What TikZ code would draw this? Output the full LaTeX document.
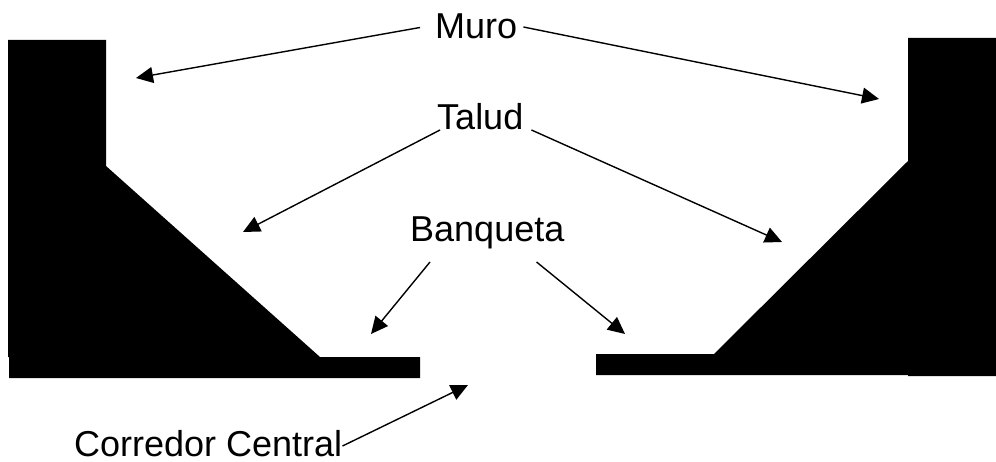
\documentclass[tikz,border=0pt]{standalone}
\usepackage{fontspec}
\setmainfont{Liberation Sans}
\usetikzlibrary{arrows.meta}
\tikzstyle{every node}=[font=\fontsize{36}{40}\selectfont,inner sep=0pt,anchor=base west]
\tikzset{callout/.style={draw,line width=1.4pt,-{Triangle[length=17pt,width=16pt]}}}
\begin{document}
\begin{tikzpicture}[x=1pt,y=-1pt]
	\useasboundingbox (0,0) rectangle (996,462);
	\fill (8,40) -- (106,40) -- (106,166) -- (320,357) -- (420,357) -- (420,378) -- (9,378) -- (9,357) -- (8,357) -- cycle; % left bank
	\fill (908,38) -- (996,38) -- (996,376) -- (908,376) -- (908,375) -- (596,375) -- (596,354) -- (714,354) -- (908,161) -- cycle; % right bank
	\node (muro) at (435,39) {Muro};
	\node (talud) at (437,130) {Talud};
	\node (banqueta) at (410,242) {Banqueta};
	\node (corredor) at (74,456) {Corredor Central};
	\coordinate (muroL) at (136,78); \coordinate (muroR) at (879,99);
	\coordinate (taludL) at (243,232); \coordinate (taludR) at (782,242);
	\coordinate (banqL) at (371,334); \coordinate (banqR) at (625,334);
	\coordinate (corr) at (468,385);
	\draw[callout] ([shift={(-15,-11.5)}]muro.base west) -- (muroL); % wall
	\draw[callout] ([shift={(6,-12)}]muro.base east) -- (muroR);
	\draw[callout] ([shift={(3,0)}]talud.base west) -- (taludL); % slope
	\draw[callout] ([shift={(8,0)}]talud.base east) -- (taludR);
	\draw[callout] ([shift={(20,20)}]banqueta.base west) -- (banqL); % berm
	\draw[callout] ([shift={(-28,20)}]banqueta.base east) -- (banqR);
	\draw[callout] ([shift={(0,-10)}]corredor.base east) -- (corr); % corridor
\end{tikzpicture}
\end{document}
